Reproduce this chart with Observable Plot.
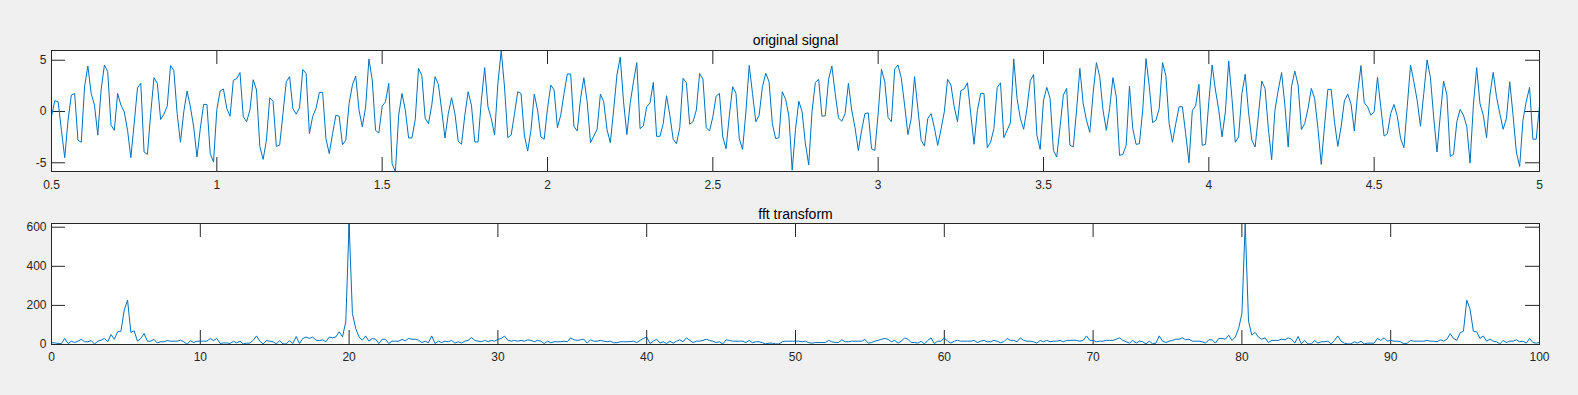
<!DOCTYPE html>
<html>
<head>
<meta charset="utf-8">
<script src="https://cdn.jsdelivr.net/npm/d3@7"></script>
<script src="https://cdn.jsdelivr.net/npm/@observablehq/plot@0.6"></script>
<style>
  html, body { margin: 0; padding: 0; background: #f0f0f0; }
  #wrap { position: relative; width: 1578px; height: 395px; overflow: hidden; }
  #wrap svg { display: block; }
</style>
</head>
<body>
<div id="wrap"></div>
<script>
// ---------- data ----------
const signalTitle = "original signal";
const fftTitle = "fft transform";

const signal = [
  -0.46, 1.05, 0.95, -1.83, -4.5, -0.85, 1.6, 1.76, -2.8, -3.0,
  2.4, 4.44, 1.76, 0.62, -2.3, 2.1, 4.54, 3.9, -1.34, -1.83,
  1.76, 0.62, -0.03, -1.83, -4.5, -1.18, 2.3, 2.75, -3.95, -4.18,
  -0.2, 3.3, 2.75, -0.78, -0.26, 0.52, 4.48, 4.0, -0.2, -3.0,
  -0.03, 2.0, 0.46, -1.5, -4.44, -1.67, 0.69, 0.69, -4.1, -4.93,
  0.2, 2.0, 2.2, 0.3, -0.46, 3.05, 3.2, 3.8, -0.5, -1.0,
  0.13, 3.1, 2.1, -3.4, -4.67, -2.8, 1.34, 1.0, -3.4, -3.27,
  -0.2, 2.9, 3.4, 0.29, -0.26, 0.36, 4.1, 3.7, -2.16, -0.46,
  0.29, 1.86, 1.86, -2.65, -4.1, -2.16, -0.36, -0.46, -3.24, -2.8,
  0.78, 2.58, 3.46, 0.13, -1.5, 0.46, 5.13, 3.07, -1.83, -2.1,
  0.52, 0.95, 2.75, -5.1, -5.85, -0.36, 1.76, 0.13, -2.58, -2.58,
  -0.8, 4.2, 3.5, -0.65, -1.18, 0.62, 3.4, 2.65, 0.13, -2.58,
  -0.2, 1.34, -0.2, -2.9, -3.2, -0.36, 1.93, 0.62, -2.97, -2.97,
  1.1, 4.28, 0.46, -0.69, -2.3, 2.75, 5.95, 2.4, -2.55, -2.3,
  -0.26, 1.93, 1.76, -2.3, -3.86, -1.83, 1.7, 0.13, -2.48, -2.7,
  0.29, 2.58, 2.1, -1.57, -0.36, 1.76, 3.66, 3.66, -1.44, -1.9,
  1.27, 3.3, 0.95, -3.04, -2.4, -1.73, 1.7, 0.95, -1.76, -3.05,
  0.13, 3.56, 5.3, 0.95, -2.25, 0.78, 2.9, 4.77, -1.67, -1.4,
  0.46, 0.85, 2.84, -2.42, -2.42, -1.18, 1.54, -0.36, -2.7, -3.14,
  -1.57, 3.24, 2.8, -1.24, -1.0, 0.13, 3.7, 3.17, -1.57, -1.9,
  -0.52, 1.5, 1.76, -2.48, -3.63, -0.36, 2.42, 1.76, -2.65, -3.7,
  -0.03, 4.5, 1.76, -1.0, -0.36, 2.42, 3.73, 2.9, -1.18, -2.65,
  -2.55, 1.93, 1.2, -0.45, -5.72, -1.75, 1.0, -0.03, -3.14, -5.2,
  0.03, 2.84, 3.14, -0.46, -0.42, 3.14, 4.44, 1.76, -0.62, -0.95,
  -0.2, 2.75, 0.13, -1.57, -3.8, -1.83, -0.2, -0.13, -3.63, -3.8,
  -0.2, 4.12, 2.9, -0.59, -1.0, 4.15, 4.54, 3.24, 0.62, -2.25,
  -0.69, 3.4, 0.29, -2.8, -3.37, -0.69, -0.2, -1.57, -3.3, -1.76,
  -0.03, 3.14, 2.58, 0.46, -1.0, 2.03, 2.2, 2.8, -0.23, -3.2,
  0.1, 1.76, 1.76, -3.53, -3.0, -1.67, 2.35, 2.8, -2.55, -1.83,
  -1.1, 5.13, 1.27, -0.69, -1.73, 0.29, 3.0, 3.6, -2.32, -3.7,
  1.1, 2.35, 1.27, -3.8, -4.44, -1.5, 1.6, 2.25, -3.3, -3.46,
  0.13, 4.2, 0.78, -0.85, -2.03, 1.76, 4.77, 3.4, 0.13, -1.83,
  0.29, 3.3, 1.44, -4.28, -4.18, -3.3, 2.48, -1.67, -3.2, -3.14,
  0.13, 5.16, 2.42, -1.08, -0.85, 0.29, 4.77, 3.5, -1.18, -3.0,
  -1.18, 0.46, 0.46, -2.16, -5.0, 0.07, 0.56, 2.65, -3.3, -3.2,
  0.95, 4.54, 2.1, 0.13, -2.48, -0.03, 4.93, 1.27, -3.0, -2.48,
  1.76, 3.63, -0.03, -2.8, -3.46, -0.36, 2.97, 2.25, -1.67, -4.7,
  0.13, 2.1, 3.8, 0.62, -3.46, 2.42, 3.95, 2.58, -1.76, -1.18,
  0.29, 2.25, 1.27, -1.67, -5.16, -1.34, 2.16, 2.16, -1.0, -3.4,
  -1.5, 1.05, 1.7, 0.75, -1.9, 1.76, 4.48, 0.85, 0.46, -0.36,
  -0.03, 3.33, 0.46, -2.4, -2.16, -0.2, 0.69, -0.46, -2.65, -3.53,
  0.46, 4.54, 2.9, 1.1, -1.44, 1.76, 5.03, 3.33, -0.52, -3.95,
  -0.36, 2.97, 1.6, -4.38, -4.18, -1.0, 0.2, -0.36, -1.44, -5.03,
  0.62, 4.28, 0.78, -0.36, -2.55, 1.6, 3.82, 1.44, -0.2, -1.73,
  -0.69, 2.9, -0.36, -3.95, -5.36, -0.85, 1.0, 2.35, -2.7, -2.7,
  0.52
];
const signalStart = 0.5;   // s
const signalStep = 0.01;   // s

// fft magnitude, 451 bins spanning 0 ... 100
const fftMag = [
  8.5, 8.5, 5, 5, 31, 5, 17, 10, 17, 27,
  14, 14, 20, 2, 17, 22, 31, 14, 51, 27,
  65, 68, 176, 227, 62, 70, 17, 31, 56, 17,
  17, 26, 8, 14, 14, 20, 17, 17, 17, 22,
  14, 1, 20, 10, 17, 17, 17, 17, 31, 20,
  31, 5, 8, 8, 5, 17, 8, 17, 3, 7,
  7, 22, 44, 17, 3, 20, 17, 14, 3, 20,
  3, 3, 20, 5, 41, 5, 31, 38, 31, 38,
  22, 20, 24, 14, 38, 34, 39, 65, 39, 116,
  619,
  159, 82, 39, 22, 44, 17, 31, 27, 5, 27, 27, 5, 17, 17, 17, 26, 19, 31, 27, 27, 22,
  10, 17, 9, 44, 5, 17, 10, 17, 14, 21,
  7, 14, 7, 17, 21, 36, 21, 17, 14, 21,
  15, 21, 17, 26, 31, 43, 22, 17, 21, 17,
  21, 17, 24, 21, 14, 21, 17, 5, 17, 9,
  14, 14, 14, 17, 14, 34, 24, 21, 24, 27,
  7, 24, 17, 17, 21, 17, 14, 17, 9, 9,
  14, 14, 14, 15, 17, 10, 21, 31, 38, 5,
  17, 27, 7, 14, 5, 17, 7, 17, 24, 14,
  34, 21, 10, 17, 17, 21, 27, 21, 17, 10,
  14, 3, 24, 21, 17, 17, 17, 17, 10, 21,
  9, 14, 14, 9, 3, 7, 7, 3, 3, 14,
  17, 17, 17, 17,
  17, 14, 17, 9, 7, 10, 10, 10, 10, 21,
  14, 10, 10, 24, 14, 14, 17, 17, 17, 17,
  26, 7, 10, 17, 21, 27, 31, 26, 14, 21,
  7, 17, 34, 27, 10, 10, 7, 17, 3, 21,
  34, 5, 17, 17, 34, 17, 7, 17, 21, 17,
  17, 17, 17, 21, 10, 17, 21, 14, 14, 21,
  17, 9, 14, 31, 21, 21, 14, 34, 21, 17,
  17, 14, 7, 21, 14, 21, 14, 17, 17, 21,
  14, 21, 21, 22, 21, 17, 21, 44, 21, 21,
  14, 17, 17, 21, 21, 21, 27, 34, 21, 14,
  7, 21, 7, 17, 14, 3, 17, 3, 7, 44,
  17, 10, 17, 21, 27,
  27, 34, 24, 27, 17, 17, 17, 14, 7, 24, 24, 7, 31, 31, 27, 48, 21, 38, 82, 157, 619,
  120, 48, 62, 38, 27, 34, 10, 21, 21, 21,
  27, 24, 34, 27, 7, 41, 3, 21, 3, 3,
  21, 7, 14, 14, 17, 3, 21, 44, 17, 7,
  3, 3, 14, 7, 17, 3, 7, 7, 7, 31,
  21, 34, 17, 21, 17, 17, 14, 3, 7, 21,
  17, 17, 17, 17, 21, 17, 17, 14, 24, 17,
  27, 56, 31, 21,
  60, 68, 227, 181, 68, 65, 31, 44,
  17, 27, 17, 14, 3, 21, 10, 17, 17, 24, 14, 17, 7, 31, 10, 7, 10
];
const fftMax = 100;

// tick labels
const signalXTicks = [0.5, 1, 1.5, 2, 2.5, 3, 3.5, 4, 4.5, 5];
const signalYTicks = [-5, 0, 5];
const fftXTicks = [0, 10, 20, 30, 40, 50, 60, 70, 80, 90, 100];
const fftYTicks = [0, 200, 400, 600];

// ---------- tables ----------
const signalData = signal.map((v, i) => ({t: signalStart + i * signalStep, v}));
const fftData = fftMag.map((v, k) => ({f: k * fftMax / (fftMag.length - 1), v}));

// ---------- style ----------
const W = 1578;
const ML = 51, MR = 39;
const innerW = W - ML - MR;
const innerH = 121;
const TICK = 14;
const ink = "#262626";
const lineColor = "#0072bd";
const font = "'Liberation Sans', Arial, Helvetica, sans-serif";

function panel({data, x, xDomain, yDomain, xTicks, yTicks, title, height, marginTop, xPad, titleDy}) {
  const marginBottom = height - marginTop - innerH;
  return Plot.plot({
    width: W,
    height,
    marginLeft: ML,
    marginRight: MR,
    marginTop,
    marginBottom,
    style: {background: "transparent", fontFamily: font, fontSize: "12px", color: ink, overflow: "visible"},
    x: {domain: xDomain, label: null},
    y: {domain: yDomain, label: null},
    marks: [
      Plot.frame({fill: "white", stroke: "none"}),
      // inward ticks on all four sides
      Plot.ruleX(xTicks, {stroke: ink, insetTop: innerH - TICK}),
      Plot.ruleX(xTicks, {stroke: ink, insetBottom: innerH - TICK}),
      Plot.ruleY(yTicks, {stroke: ink, insetRight: innerW - TICK}),
      Plot.ruleY(yTicks, {stroke: ink, insetLeft: innerW - TICK}),
      Plot.line(data, {x, y: "v", stroke: lineColor, strokeWidth: 1, clip: true}),
      Plot.frame({stroke: ink, strokeWidth: 1}),
      Plot.axisX({ticks: xTicks, tickSize: 0, tickPadding: xPad, tickFormat: d => String(d), label: null, fill: ink}),
      Plot.axisY({ticks: yTicks, tickSize: 0, tickPadding: 5, tickFormat: d => String(d), label: null, fill: ink}),
      Plot.text([title], {frameAnchor: "top", dy: titleDy, lineAnchor: "bottom", fontSize: 14, fill: "black"})
    ]
  });
}

const topPanel = panel({
  data: signalData, x: "t",
  xDomain: [signalStart, signalStart + (signal.length - 1) * signalStep],
  yDomain: d3.extent(signal),
  xTicks: signalXTicks, yTicks: signalYTicks,
  title: signalTitle, height: 200, marginTop: 50, xPad: 9, titleDy: -6
});
const bottomPanel = panel({
  data: fftData, x: "f",
  xDomain: [0, fftMax],
  yDomain: [0, d3.max(fftMag)],
  xTicks: fftXTicks, yTicks: fftYTicks,
  title: fftTitle, height: 195, marginTop: 23, xPad: 8, titleDy: -5
});

const wrap = document.getElementById("wrap");
wrap.appendChild(topPanel);
wrap.appendChild(bottomPanel);
</script>
</body>
</html>
